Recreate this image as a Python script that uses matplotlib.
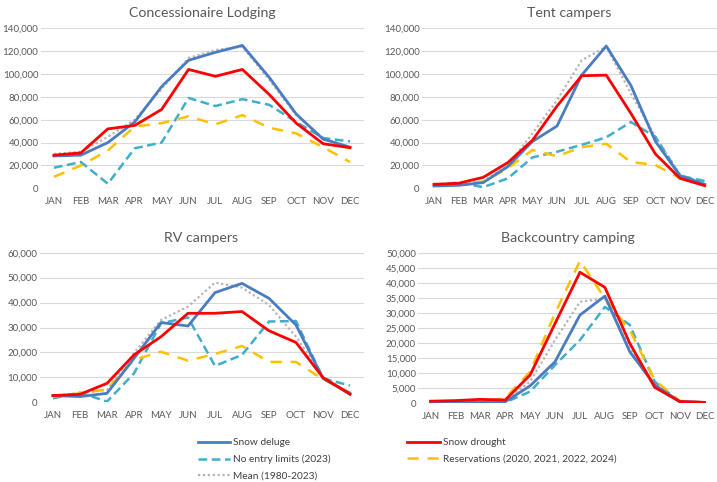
import matplotlib
matplotlib.use("Agg")
from matplotlib import pyplot as plt
from matplotlib.ticker import FuncFormatter

plt.rcParams['font.family'] = ['Lato', 'DejaVu Sans']

months = ['JAN', 'FEB', 'MAR', 'APR', 'MAY', 'JUN', 'JUL', 'AUG', 'SEP', 'OCT', 'NOV', 'DEC']

# Concessionaire Lodging
lodge_deluge = [28300, 29000, 40000, 58000, 89000, 112000, 119000, 125000, 97000, 65000, 43000, 36000]
lodge_drought = [29000, 31000, 52000, 55000, 69000, 104000, 98000, 104000, 82000, 57000, 39000, 35500]
lodge_noentry = [18000, 23000, 4000, 35000, 40000, 79000, 72000, 78000, 73000, 58000, 44000, 41000]
lodge_reserv = [10000, 20000, 33000, 54000, 57000, 63000, 56000, 64000, 53000, 48000, 36000, 23000]
lodge_mean = [30000, 32000, 45000, 60000, 87000, 114000, 121000, 124000, 95000, 64000, 44000, 36000]

# Tent campers
tent_deluge = [2000, 2600, 5000, 19000, 41000, 54500, 99000, 124500, 90000, 41000, 11000, 3500]
tent_drought = [3500, 4400, 9600, 22500, 42000, 72000, 98500, 99000, 65600, 30000, 8700, 2300]
tent_noentry = [3000, 5000, 1000, 8700, 27000, 32000, 38000, 44600, 58000, 45000, 11000, 6400]
tent_reserv = [2600, 3500, 5800, 17500, 33500, 28000, 36000, 39000, 23000, 20400, 8700, 3000]
tent_mean = [3000, 4000, 6000, 20000, 48000, 77000, 112000, 124000, 83000, 45000, 12000, 4400]

# RV campers
rv_deluge = [2700, 2300, 3600, 17600, 32000, 30600, 44000, 47700, 41700, 31000, 9600, 3600]
rv_drought = [2700, 3200, 7600, 19000, 26300, 35700, 35700, 36400, 28700, 24000, 9900, 3200]
rv_noentry = [1600, 3900, 300, 11600, 31700, 34000, 14600, 19000, 32400, 32600, 9600, 6700]
rv_reserv = [2300, 3600, 5200, 17000, 20300, 16700, 19400, 22600, 16200, 16200, 9200, 3900]
rv_mean = [2700, 3600, 5000, 19700, 33000, 38400, 48000, 46000, 39000, 26300, 10300, 3600]

# Backcountry camping
back_deluge = [200, 300, 400, 500, 5800, 13800, 29300, 35600, 17100, 6100, 600, 300]
back_drought = [700, 900, 1300, 1100, 9400, 26500, 43500, 38500, 19900, 5300, 600, 300]
back_noentry = [100, 200, 200, 300, 3900, 12700, 21000, 32000, 26000, 7200, 500, 300]
back_reserv = [100, 300, 500, 1700, 10500, 29900, 47300, 34800, 24300, 7700, 800, 300]
back_mean = [200, 300, 500, 900, 7200, 21000, 33700, 34800, 18200, 6400, 500, 200]

panels = [
    ('Concessionaire Lodging', lodge_deluge, lodge_drought, lodge_noentry, lodge_reserv, lodge_mean, 140000, 20000),
    ('Tent campers', tent_deluge, tent_drought, tent_noentry, tent_reserv, tent_mean, 140000, 20000),
    ('RV campers', rv_deluge, rv_drought, rv_noentry, rv_reserv, rv_mean, 60000, 10000),
    ('Backcountry camping', back_deluge, back_drought, back_noentry, back_reserv, back_mean, 50000, 5000),
]

# axes boxes in pixels: left, top, right, bottom
W, H = 717, 482
boxes = [(40.5, 28.3, 363.5, 188.3), (421.7, 28.3, 717, 188.3),
         (39.5, 252.7, 363.5, 402.3), (418, 252.7, 717, 403.3)]

c_blue = '#4A7CC2'
c_red = '#FF0000'
c_cyan = '#40AECB'
c_yel = '#FFC000'
c_grey = '#B5B5B5'

fig = plt.figure(figsize=(W / 100, H / 100), dpi=100)

for (title, dl, dr, ne, rs, mn, ymax, step), (l, t, r, b) in zip(panels, boxes):
    ax = fig.add_axes([l / W, 1 - b / H, (r - l) / W, (b - t) / H])
    x = range(len(months))
    h_mean, = ax.plot(x, mn, color=c_grey, lw=1.6, ls=(0, (1, 1.2)), label='Mean (1980-2023)')
    h_ne, = ax.plot(x, ne, color=c_cyan, lw=1.8, ls=(0, (3.5, 1.8)), label='No entry limits (2023)')
    h_rs, = ax.plot(x, rs, color=c_yel, lw=1.8, ls=(0, (4.5, 3.5)), label='Reservations (2020, 2021, 2022, 2024)')
    h_dl, = ax.plot(x, dl, color=c_blue, lw=2.0, label='Snow deluge')
    h_dr, = ax.plot(x, dr, color=c_red, lw=2.0, label='Snow drought')
    ax.set_xlim(-0.5, len(months) - 0.5)
    ax.set_ylim(0, ymax)
    ax.set_yticks(range(0, ymax + 1, step))
    ax.yaxis.set_major_formatter(FuncFormatter(lambda v, p: '{:,.0f}'.format(v)))
    ax.set_xticks(list(x))
    ax.set_xticklabels(months)
    ax.tick_params(length=0, labelsize=7, colors='#595959')
    ax.tick_params(axis='x', pad=6)
    ax.tick_params(axis='y', pad=1.5)
    ax.grid(axis='y', color='#D9D9D9', lw=0.8)
    ax.set_axisbelow(True)
    for s in ax.spines.values():
        s.set_visible(False)
    ax.set_title(title, fontsize=10.2, color='#595959', pad=8)

handles = [h_dl, h_ne, h_mean, h_dr, h_rs]
fig.legend(handles=handles, labels=[h.get_label() for h in handles], ncol=2,
           loc='upper left', bbox_to_anchor=(198 / W, 1 - 438 / H), frameon=False,
           fontsize=7.3, handlelength=3.2, handletextpad=0.3, columnspacing=7.5,
           labelspacing=0.75, borderaxespad=0, borderpad=0, labelcolor='#404040')

fig.savefig('out.png', dpi=100)
